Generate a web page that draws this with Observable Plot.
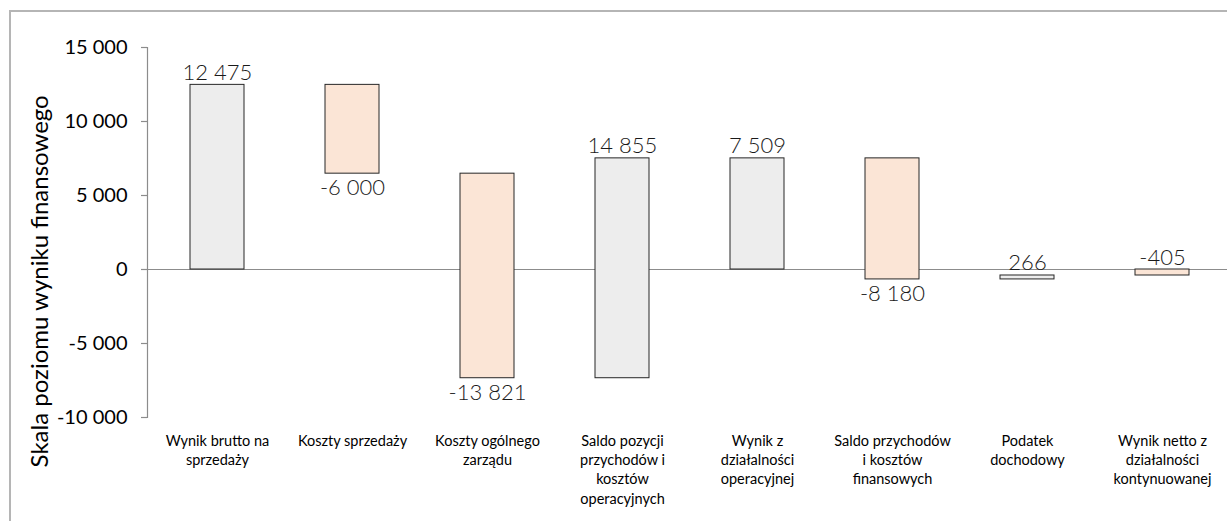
<!DOCTYPE html>
<html><head><meta charset="utf-8">
<script src="https://cdn.jsdelivr.net/npm/d3@7"></script>
<script src="https://cdn.jsdelivr.net/npm/@observablehq/plot@0.6"></script>
<style>
body{margin:0;background:#fff;overflow:hidden}
#wrap{position:relative;width:1227px;height:521px;overflow:hidden}
#frame{position:absolute;left:9px;top:10px;width:1240px;height:530px;border-top:2px solid #b5b5b5;border-left:2px solid #b5b5b5;z-index:2;pointer-events:none}
#chart{position:absolute;left:0;top:0}
</style></head><body>
<div id="wrap"><div id="frame"></div><div id="chart"></div></div>
<script>
const categories = [
  "Wynik brutto na\nsprzedaży",
  "Koszty sprzedaży",
  "Koszty ogólnego\nzarządu",
  "Saldo pozycji\nprzychodów i\nkosztów\noperacyjnych",
  "Wynik z\ndziałalności\noperacyjnej",
  "Saldo przychodów\ni kosztów\nfinansowych",
  "Podatek\ndochodowy",
  "Wynik netto z\ndziałalności\nkontynuowanej"
];
const startValues = [0, 12475, 6475, -7346, 0, 7509, -671, 0];
const endValues   = [12475, 6475, -7346, 7509, 7509, -671, -405, -405];
const labelValues = [12475, -6000, -13821, 14855, 7509, -8180, 266, -405];
const barKinds    = ["wynik", "koszt", "koszt", "wynik", "wynik", "koszt", "wynik", "koszt"];
const labelSides  = ["top", "bottom", "bottom", "top", "top", "bottom", "top", "top"];
const yTicks = [-10000, -5000, 0, 5000, 10000, 15000];
const yTitle = "Skala poziomu wyniku finansowego";

const fmt = d3.formatLocale({decimal: ",", thousands: " ", grouping: [3], currency: ["", ""], minus: "-"}).format(",d");

const rows = categories.map((c, i) => ({
  cat: c,
  y1: startValues[i],
  y2: endValues[i],
  value: labelValues[i],
  kind: barKinds[i],
  side: labelSides[i],
  top: Math.max(startValues[i], endValues[i]),
  bottom: Math.min(startValues[i], endValues[i])
}));

const font = "Lato, 'Open Sans', sans-serif";

const chart = Plot.plot({
  width: 1227,
  height: 521,
  marginLeft: 147,
  marginRight: -4,
  marginTop: 47,
  marginBottom: 104,
  style: {background: "transparent", fontFamily: font},
  x: {domain: categories, paddingInner: 0.6, paddingOuter: 0.3, label: null},
  y: {domain: [-10000, 15000], label: null},
  color: {domain: ["wynik", "koszt"], range: ["#ededed", "#fbe5d6"]},
  marks: [
    Plot.ruleY([0], {stroke: "#8c8c8c", strokeWidth: 1.2}),
    Plot.frame({anchor: "left", stroke: "#8c8c8c", strokeWidth: 1.2}),
    Plot.axisY(yTicks, {tickSize: 6, stroke: "#8c8c8c", text: null, strokeWidth: 1.2}),
    Plot.axisY(yTicks, {tickSize: 6, tickPadding: 14, fill: "#000", tickFormat: fmt, fontSize: 20, stroke: null, label: null}),
    Plot.axisX({tickSize: 0, tickPadding: 15, fontSize: 14.5, lineHeight: 1.32, fill: "#000", label: null}),
    Plot.barY(rows, {x: "cat", y1: "y1", y2: "y2", fill: "kind", stroke: "#262626", strokeWidth: 1}),
    Plot.text(rows.filter(d => d.side === "top"), {x: "cat", y: "top", text: d => fmt(d.value), lineAnchor: "bottom", dy: -5, fontSize: 22, fontWeight: 300, fill: "#1a1a1a"}),
    Plot.text(rows.filter(d => d.side === "bottom"), {x: "cat", y: "bottom", text: d => fmt(d.value), lineAnchor: "top", dy: 6, fontSize: 22, fontWeight: 300, fill: "#1a1a1a"}),
    Plot.text([yTitle], {y: () => -800, frameAnchor: "left", dx: -107, rotate: -90, textAnchor: "middle", fontSize: 24, fill: "#000"})
  ]
});
document.getElementById("chart").appendChild(chart);
</script>
</body></html>
